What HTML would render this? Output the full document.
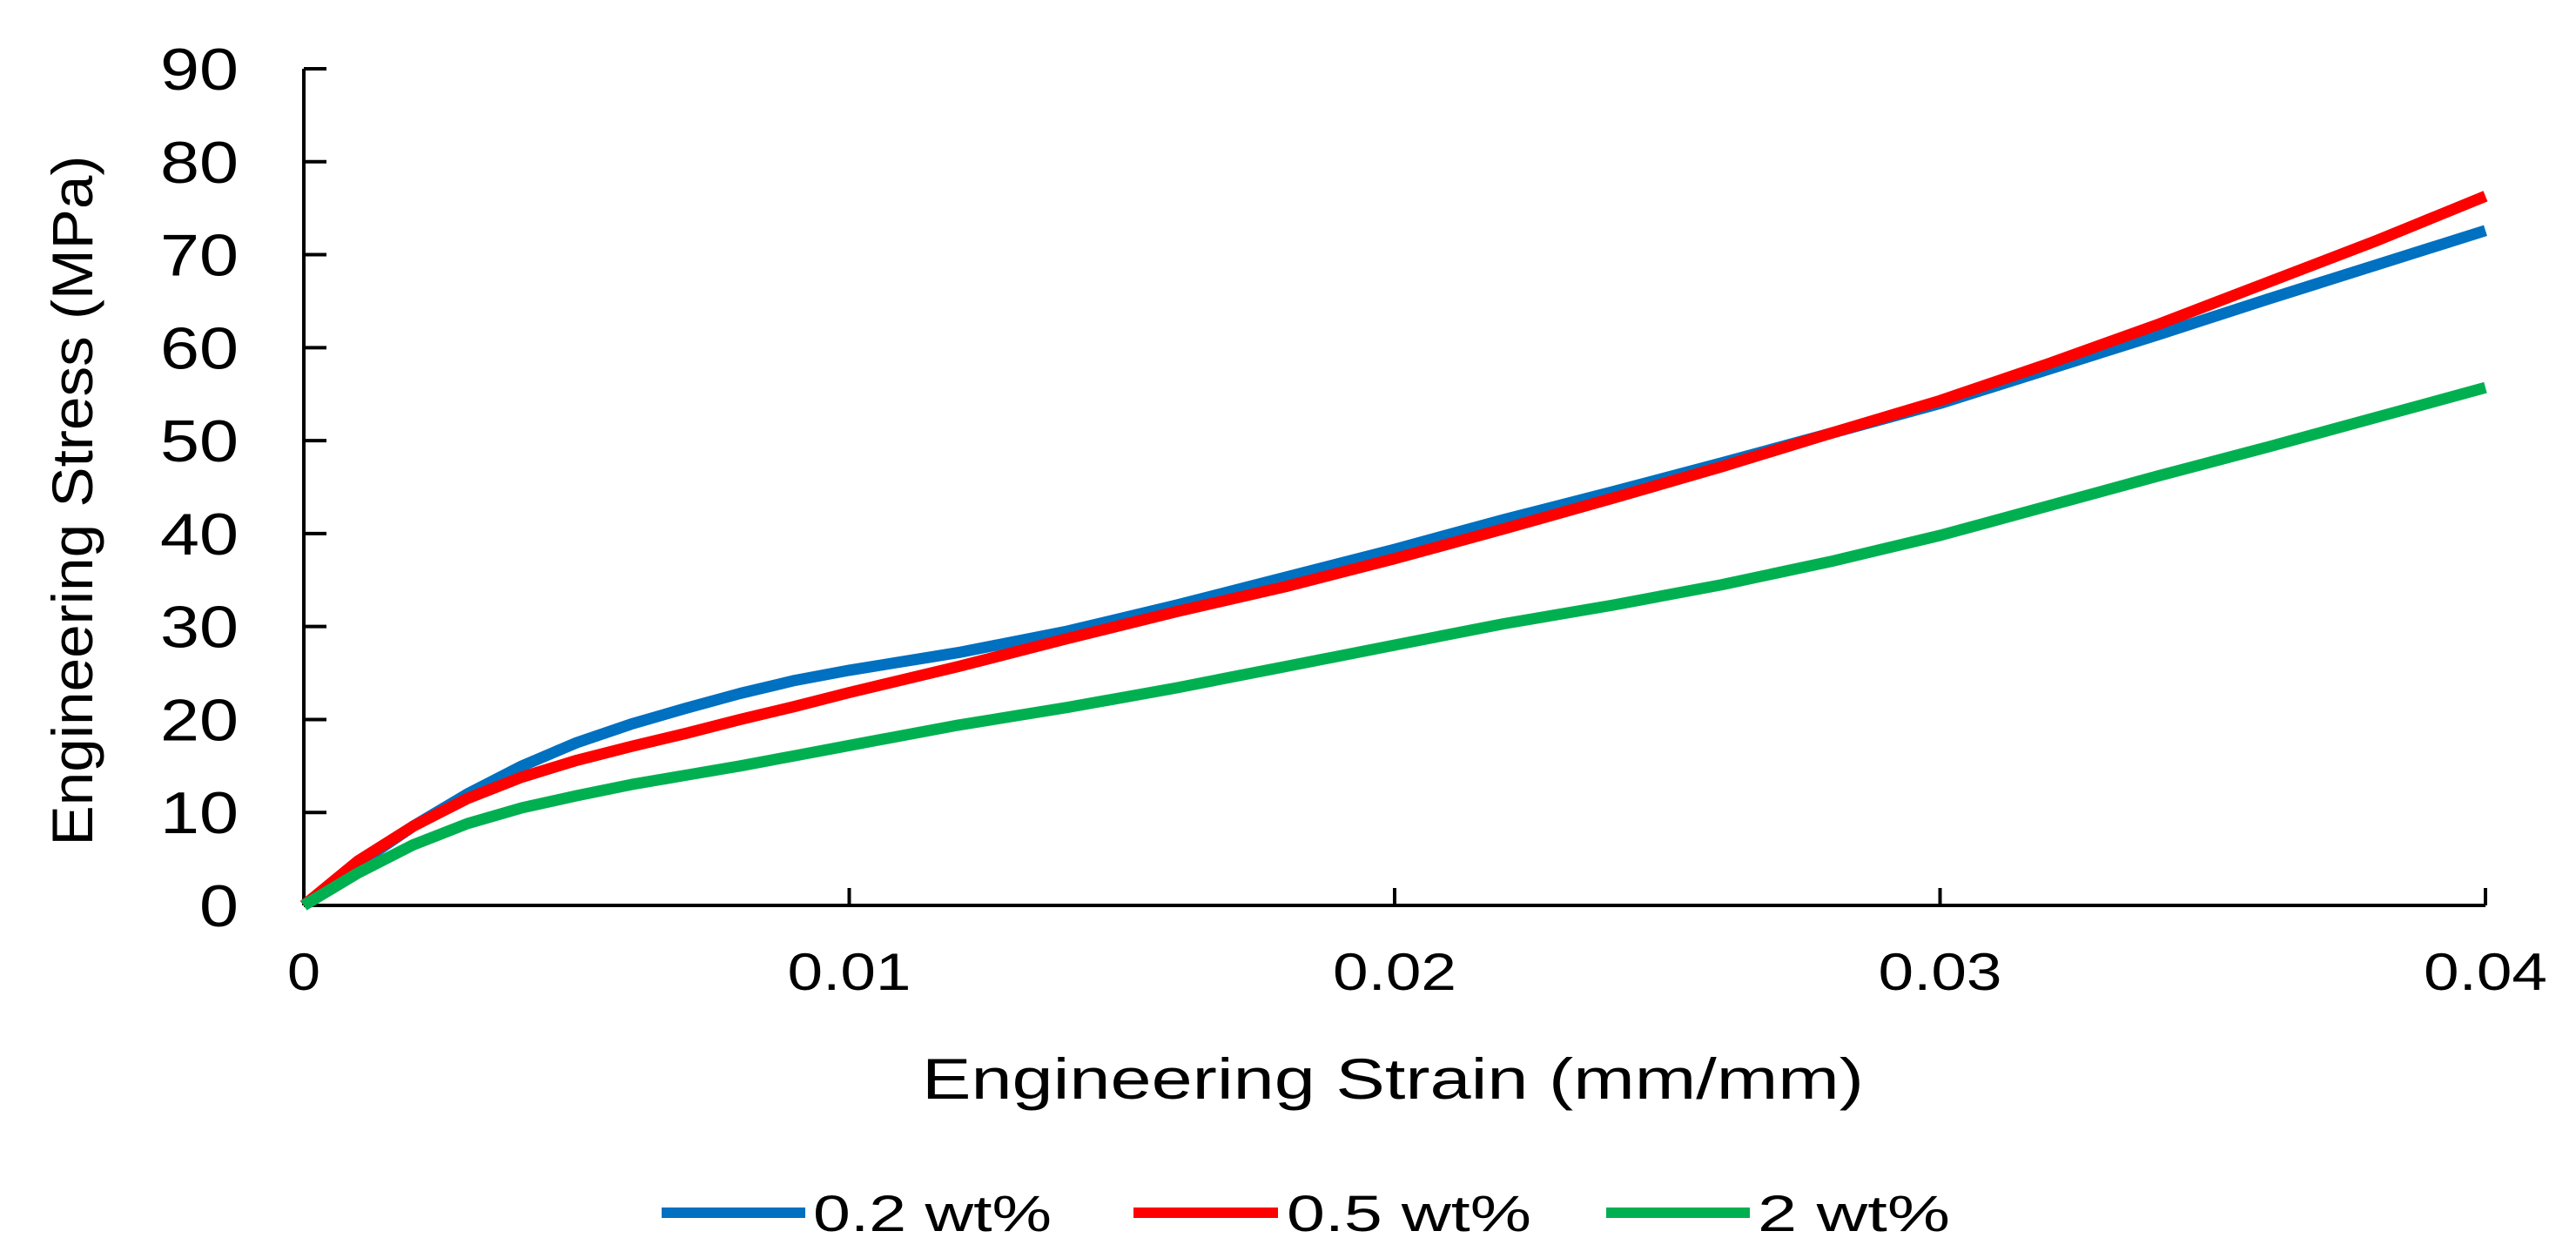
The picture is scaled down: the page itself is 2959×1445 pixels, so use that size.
<!DOCTYPE html>
<html><head><meta charset="utf-8"><style>
html,body{margin:0;padding:0;background:#fff;}
svg{display:block;font-family:"Liberation Sans",Arial,sans-serif;}
</style></head><body>
<svg id="chart" width="2959" height="1445" viewBox="0 0 2959 1445">
<g id="axes"></g>
<g id="series"></g>
<text x="1600" y="1262" text-anchor="middle" font-size="66" textLength="1082" lengthAdjust="spacingAndGlyphs">Engineering Strain (mm/mm)</text>
<text transform="translate(106,575) rotate(-90)" text-anchor="middle" font-size="66" textLength="793" lengthAdjust="spacingAndGlyphs">Engineering Stress (MPa)</text>
<g>
<g><line x1="760" y1="1393" x2="925" y2="1393" stroke="#0070C0" stroke-width="12"/><text x="934" y="1414" font-size="58" textLength="274" lengthAdjust="spacingAndGlyphs">0.2 wt%</text></g>
<g><line x1="1302" y1="1393" x2="1468" y2="1393" stroke="#FF0000" stroke-width="12"/><text x="1478" y="1414" font-size="58" textLength="281" lengthAdjust="spacingAndGlyphs">0.5 wt%</text></g>
<g><line x1="1845" y1="1393" x2="2010" y2="1393" stroke="#00B050" stroke-width="12"/><text x="2019" y="1414" font-size="58" textLength="221" lengthAdjust="spacingAndGlyphs">2 wt%</text></g>
</g>
</svg>
<script>
const xTicks=[0,0.01,0.02,0.03,0.04];
const xTickLabels=["0","0.01","0.02","0.03","0.04"];
const yTicks=[0,10,20,30,40,50,60,70,80,90];
const strain=[0,0.001,0.002,0.003,0.004,0.005,0.006,0.007,0.008,0.009,0.010,0.012,0.014,0.016,0.018,0.020,0.022,0.024,0.026,0.028,0.030,0.032,0.034,0.036,0.038,0.040];
const blue=[0,4.5,8.5,12,15,17.5,19.5,21.2,22.8,24.2,25.3,27.2,29.5,32.3,35.3,38.3,41.5,44.5,47.6,50.8,54,57.7,61.4,65.2,68.9,72.6];
const red=[0,4.8,8.5,11.5,13.8,15.6,17.1,18.5,20,21.4,22.9,25.7,28.7,31.6,34.3,37.3,40.5,43.8,47.2,50.8,54.3,58.3,62.5,67,71.5,76.3];
const green=[0,3.5,6.5,8.8,10.5,11.8,13,14,15,16.1,17.2,19.4,21.3,23.4,25.7,28,30.3,32.3,34.5,37,39.8,43,46.2,49.3,52.5,55.7];
const NS="http://www.w3.org/2000/svg";
const X0=349,X1=2855,Y0=1040,Y1=79;
const sx=v=>X0+(v-0)/(0.04)*(X1-X0);
const sy=v=>Y0-(v/90)*(Y0-Y1);
const axes=document.getElementById('axes');
function mk(tag,attrs,parent){const e=document.createElementNS(NS,tag);for(const k in attrs)e.setAttribute(k,attrs[k]);parent.appendChild(e);return e;}
let l=mk('line',{x1:X0,y1:Y1,x2:X0,y2:Y0,stroke:'#000','stroke-width':4},axes);


l=mk('line',{x1:X0,y1:Y0,x2:X1,y2:Y0,stroke:'#000','stroke-width':4},axes);


yTicks.forEach(v=>{
 const t=mk('line',{x1:X0,y1:sy(v),x2:X0+26,y2:sy(v),stroke:'#000','stroke-width':4},axes);
 
 
 const tx=mk('text',{x:274,y:sy(v)+24,'text-anchor':'end','font-size':68,textLength:v===0?45:90,lengthAdjust:'spacingAndGlyphs'},axes);
 tx.textContent=String(v);
 
 
});
xTicks.forEach((v,i)=>{
 const t=mk('line',{x1:sx(v),y1:Y0,x2:sx(v),y2:Y0-20,stroke:'#000','stroke-width':4},axes);
 
 
 const tx=mk('text',{x:sx(v),y:1137,'text-anchor':'middle','font-size':60,textLength:i===0?38:142,lengthAdjust:'spacingAndGlyphs'},axes);
 tx.textContent=xTickLabels[i];
 
 
});
const series=document.getElementById('series');
[[blue,'#0070C0','line-0.2wt'],[red,'#FF0000','line-0.5wt'],[green,'#00B050','line-2wt']].forEach(([d,c,n])=>{
 const pts=strain.map((s,i)=>sx(s).toFixed(1)+','+sy(d[i]).toFixed(1)).join(' ');
 const p=mk('polyline',{points:pts,fill:'none',stroke:c,'stroke-width':13,'stroke-linejoin':'round'},series);
 
 
});
</script>
</body></html>
